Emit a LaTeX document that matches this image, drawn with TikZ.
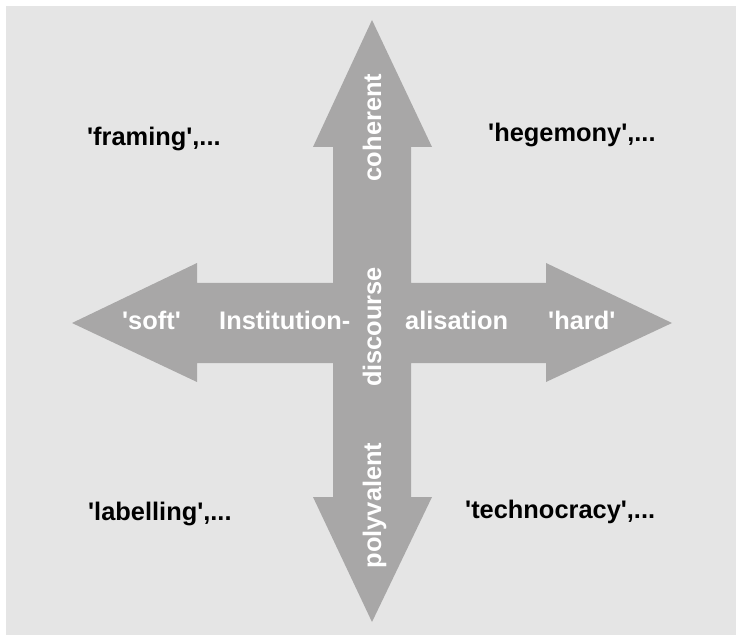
\documentclass[tikz,border=0pt]{standalone}
\usepackage{fontspec}
\setmainfont{Liberation Sans}
\definecolor{panelgray}{HTML}{E5E5E5}
\definecolor{arrowgray}{HTML}{A8A7A7}
\newcommand{\sq}{\textquotesingle}
\begin{document}
\begin{tikzpicture}[x=1pt,y=-1pt,
  lbl/.style={font=\fontsize{25.4}{30}\selectfont\bfseries, inner sep=0pt, anchor=base west},
  onarrow/.style={font=\fontsize{25.4}{30}\selectfont\bfseries, text=white, inner sep=0pt},
  axislbl/.style={onarrow, anchor=base west},
  vertlbl/.style={onarrow, anchor=base, rotate=90}]
  \useasboundingbox (0,0) rectangle (739,636);
  % panel
  \fill[panelgray] (6,6) rectangle (736,635);
  % four-headed cross arrow
  \fill[arrowgray]
    (372,20) -- (432,147) -- (411,147) -- (411,283) -- (546,283) -- (546,263)
    -- (672,323) -- (546,382) -- (546,363) -- (411,363) -- (411,497)
    -- (432,497) -- (372,622) -- (313,497) -- (333,497) -- (333,363)
    -- (197,363) -- (197,382) -- (72,323) -- (197,263) -- (197,283)
    -- (333,283) -- (333,147) -- (313,147) -- cycle;
  % labels along the horizontal axis
  \node[axislbl] (soft) at (122,330) {\sq soft\sq};
  \node[axislbl] (inst) at (219,330) {Institution-};
  \node[axislbl] (alis) at (405,330) {alisation};
  \node[axislbl] (hard) at (548,330) {\sq hard\sq};
  % labels along the vertical axis
  \node[vertlbl] (coh) at (381,127.5) {coherent};
  \node[vertlbl] (disc) at (381,327) {discourse};
  \node[vertlbl] (poly) at (381,505.5) {polyvalent};
  % quadrant labels
  \node[lbl] (framing) at (87,146) {\sq framing\sq,...};
  \node[lbl] (hegemony) at (488,142) {\sq hegemony\sq,...};
  \node[lbl] (labelling) at (88,520) {\sq labelling\sq,...};
  \node[lbl] (technocracy) at (465,518) {\sq technocracy\sq,...};
\end{tikzpicture}
\end{document}
